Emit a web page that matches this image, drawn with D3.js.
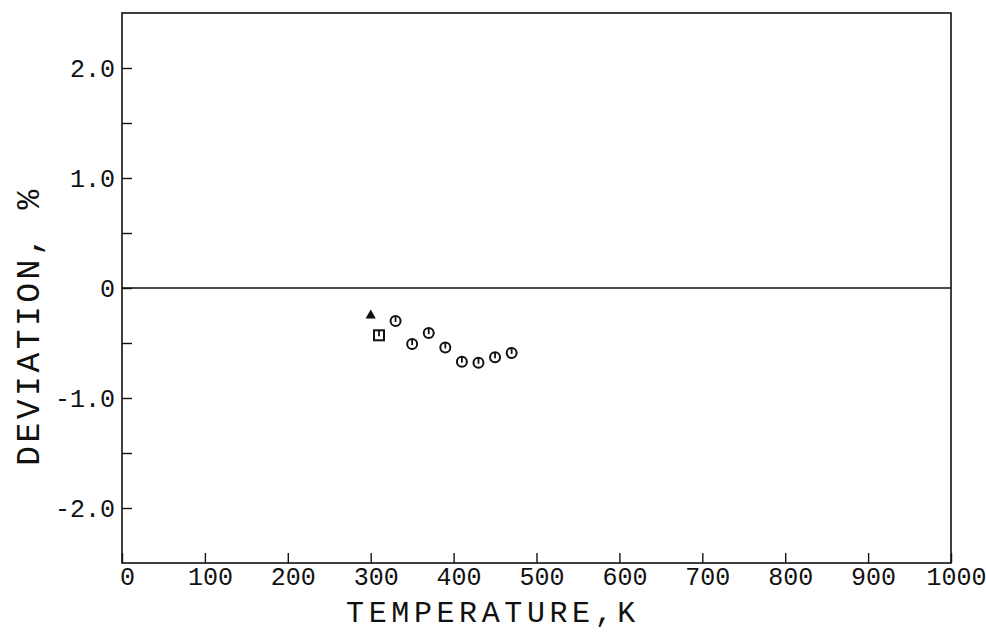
<!DOCTYPE html>
<html>
<head>
<meta charset="utf-8">
<script src="https://cdn.jsdelivr.net/npm/d3@7"></script>
<style>
  body { margin: 0; background: #fff; }
  text { font-family: "Liberation Mono", "DejaVu Sans Mono", monospace; fill: #111; }
</style>
</head>
<body>
<div class="chart"></div>
<script>
// values
const circleTemp = [330, 350, 370, 390, 410, 430, 450, 470];
const circleDev = [-0.30, -0.51, -0.41, -0.54, -0.67, -0.68, -0.63, -0.59];
const squareTemp = [310];
const squareDev = [-0.43];
const triangleTemp = [300];
const triangleDev = [-0.25];

const xTicks = [0, 100, 200, 300, 400, 500, 600, 700, 800, 900, 1000];
const yTicks = [-2, -1.5, -1, -0.5, 0, 0.5, 1, 1.5, 2];
const yLabels = {"2": "2.0", "1": "1.0", "0": "0", "-1": "-1.0", "-2": "-2.0"};

const margin = {top: 13, left: 122, bottom: 72, right: 35};
const width = 986 - margin.left - margin.right;
const height = 635 - margin.top - margin.bottom;

const svg = d3.select('.chart')
    .append('svg')
    .attr('width', 986)
    .attr('height', 635)
    .append('g')
    .attr('transform', 'translate(' + margin.left + ',' + margin.top + ')');

const xScale = d3.scaleLinear().domain([0, 1000]).range([0, width]);
const yScale = d3.scaleLinear().domain([-2.5, 2.5]).range([height, 0]);

// frame
svg.append('rect')
    .attr('width', width)
    .attr('height', height)
    .attr('fill', 'none')
    .attr('stroke', '#111')
    .attr('stroke-width', 1.6);

// zero line
svg.append('line')
    .attr('x1', 0).attr('x2', width)
    .attr('y1', yScale(0)).attr('y2', yScale(0))
    .attr('stroke', '#111')
    .attr('stroke-width', 1.6);

// x axis, ticks pointing inward
const xAxis = d3.axisBottom(xScale)
    .tickValues(xTicks)
    .tickSize(-10)
    .tickPadding(4)
    .tickFormat(d3.format('d'));

svg.append('g')
    .attr('class', 'x-axis')
    .attr('transform', 'translate(0,' + height + ')')
    .call(xAxis);

// y axis, ticks pointing inward
const yAxis = d3.axisLeft(yScale)
    .tickValues(yTicks)
    .tickSize(-10)
    .tickPadding(7)
    .tickFormat(d => yLabels[String(d)] || '');

svg.append('g')
    .attr('class', 'y-axis')
    .call(yAxis);

svg.selectAll('.x-axis .domain, .y-axis .domain').remove();
svg.selectAll('.tick line').attr('stroke', '#111').attr('stroke-width', 1.4);
svg.selectAll('.tick text')
    .style('font-family', '"Liberation Mono", "DejaVu Sans Mono", monospace')
    .style('font-size', '25px')
    .attr('fill', '#111');
svg.selectAll('.x-axis .tick text').attr('dx', '5px');

// axis titles
svg.append('text')
    .attr('x', 371)
    .attr('y', height + 59)
    .attr('text-anchor', 'middle')
    .style('font-size', '30px')
    .style('letter-spacing', '4.6px')
    .text('TEMPERATURE,K');

svg.append('text')
    .attr('transform', 'translate(' + (-83) + ',' + (yScale(0) + 38) + ') rotate(-90)')
    .attr('text-anchor', 'middle')
    .style('font-size', '33px')
    .style('letter-spacing', '3.5px')
    .text('DEVIATION, %');

// circles with inner tick
const circleData = circleTemp.map((t, i) => ({t: t, v: circleDev[i]}));
const cg = svg.selectAll('.circ')
    .data(circleData)
    .enter()
    .append('g')
    .attr('class', 'circ')
    .attr('transform', d => 'translate(' + xScale(d.t) + ',' + yScale(d.v) + ')');
cg.append('circle')
    .attr('r', 5)
    .attr('fill', 'none')
    .attr('stroke', '#111')
    .attr('stroke-width', 2);
cg.append('line')
    .attr('x1', 0).attr('x2', 0)
    .attr('y1', -5).attr('y2', 1)
    .attr('stroke', '#111')
    .attr('stroke-width', 1.8);

// square with inner tick
const squareData = squareTemp.map((t, i) => ({t: t, v: squareDev[i]}));
const sg = svg.selectAll('.sq')
    .data(squareData)
    .enter()
    .append('g')
    .attr('class', 'sq')
    .attr('transform', d => 'translate(' + xScale(d.t) + ',' + yScale(d.v) + ')');
sg.append('rect')
    .attr('x', -5).attr('y', -5)
    .attr('width', 10).attr('height', 10)
    .attr('fill', 'none')
    .attr('stroke', '#111')
    .attr('stroke-width', 2);
sg.append('line')
    .attr('x1', 0).attr('x2', 0)
    .attr('y1', -5).attr('y2', 1)
    .attr('stroke', '#111')
    .attr('stroke-width', 1.8);

// filled triangle
const triData = triangleTemp.map((t, i) => ({t: t, v: triangleDev[i]}));
svg.selectAll('.tri')
    .data(triData)
    .enter()
    .append('path')
    .attr('class', 'tri')
    .attr('transform', d => 'translate(' + xScale(d.t) + ',' + yScale(d.v) + ')')
    .attr('d', d3.symbol().type(d3.symbolTriangle).size(45))
    .attr('fill', '#111');
</script>
</body>
</html>
